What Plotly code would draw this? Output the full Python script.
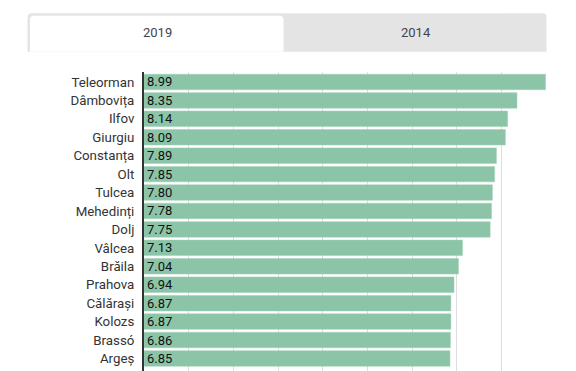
import plotly.graph_objects as go

counties = ["Teleorman", "Dâmbovița", "Ilfov", "Giurgiu", "Constanța", "Olt", "Tulcea",
            "Mehedinți", "Dolj", "Vâlcea", "Brăila", "Prahova", "Călărași", "Kolozs",
            "Brassó", "Argeș"]
values_2019 = [8.99, 8.35, 8.14, 8.09, 7.89, 7.85, 7.80, 7.78, 7.75, 7.13, 7.04, 6.94,
               6.87, 6.87, 6.86, 6.85]
tabs = ["2019", "2014"]

OFF = 8  # default page body margin
W, H = 576 - OFF, 371 - OFF
L, R, T, B = 144 - OFF, 30, 72 - OFF, 0
PW, PH = W - L - R, H - T - B


def px(x):
    # page pixel x -> paper coordinate
    return (x - OFF - L) / PW


def py(y):
    # page pixel y -> paper coordinate
    return 1 + (T - (y - OFF)) / PH


fig = go.Figure(go.Bar(
    y=counties, x=values_2019, orientation="h",
    marker=dict(color="#8cc4a8", line=dict(color="#9fd0b6", width=0.5)),
    text=[f"{v:.2f}" for v in values_2019],
    textposition="inside", insidetextanchor="start", constraintext="none",
    textfont=dict(color="#111111", size=13, family="Roboto"),
    hoverinfo="skip",
))

shapes = []
x0, x1, y0, y1, r = px(27.5), px(546.5), py(51.7), py(13.3), 4
rx, ry = r / PW, r / PH
shapes.append(dict(
    type="path", xref="paper", yref="paper", line=dict(width=0), fillcolor="#e4e4e4",
    path=(f"M {x0} {y0} L {x0} {y1-ry} Q {x0} {y1} {x0+rx} {y1} L {x1-rx} {y1} "
          f"Q {x1} {y1} {x1} {y1-ry} L {x1} {y0} Z"),
))
a0, a1, b0, b1 = px(30), px(283.5), py(51.7), py(15.7)
shapes.append(dict(
    type="path", xref="paper", yref="paper", line=dict(width=0), fillcolor="#ffffff",
    path=(f"M {a0} {b0} L {a0} {b1-ry} Q {a0} {b1} {a0+rx} {b1} L {a1-rx} {b1} "
          f"Q {a1} {b1} {a1} {b1-ry} L {a1} {b0} Z"),
))

annotations = [
    dict(text=tabs[0], x=px(157), y=py(32.5), xref="paper", yref="paper", showarrow=False,
         font=dict(size=13, color="#444444", family="Roboto"), xanchor="center", yanchor="middle"),
    dict(text=tabs[1], x=px(416), y=py(32.5), xref="paper", yref="paper", showarrow=False,
         font=dict(size=13, color="#444444", family="Roboto"), xanchor="center", yanchor="middle"),
]

fig.update_layout(
    width=W, height=H,
    margin=dict(l=L, r=R, t=T, b=B, pad=0),
    paper_bgcolor="white", plot_bgcolor="white",
    showlegend=False, bargap=0.16,
    font=dict(family="Roboto", size=13, color="#333333"),
    shapes=shapes, annotations=annotations,
    xaxis=dict(range=[0, 9], dtick=1, showgrid=True, gridcolor="#dddddd", gridwidth=1,
               showticklabels=False, zeroline=False, showline=False, fixedrange=True),
    yaxis=dict(categoryorder="array", categoryarray=counties,
               range=[15.68, -0.54], showgrid=False, showline=True, linecolor="#333333",
               linewidth=2, ticks="outside", ticklen=5, tickcolor="rgba(0,0,0,0)",
               tickfont=dict(size=13.3, color="#333333", family="Roboto"), fixedrange=True),
)

fig.write_html("out.html", config={"displayModeBar": False})
